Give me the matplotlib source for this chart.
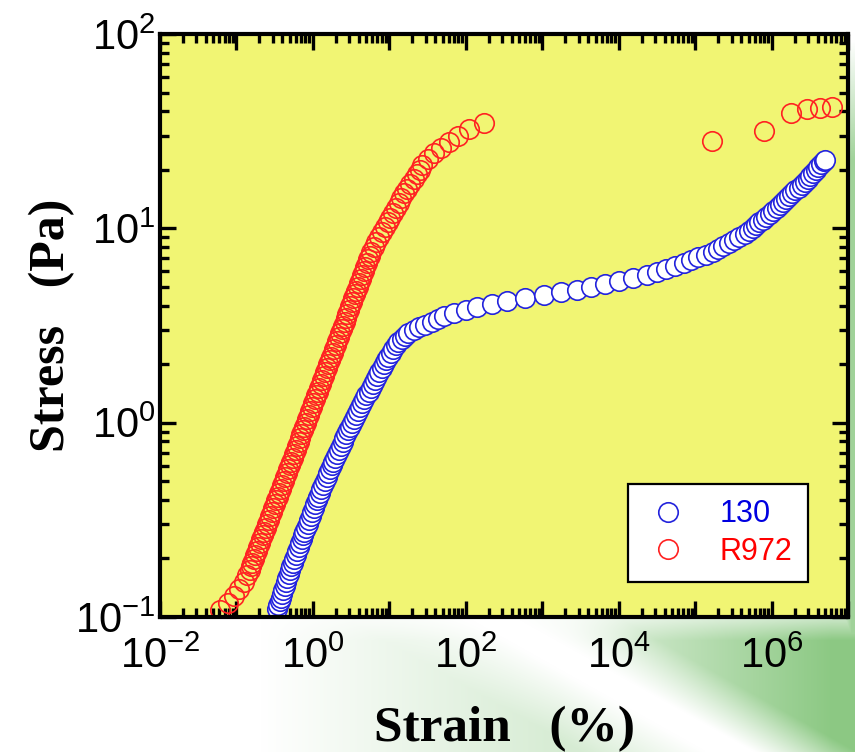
import numpy as np
import matplotlib
matplotlib.use("Agg")
import matplotlib.pyplot as plt
from matplotlib.ticker import LogLocator, FuncFormatter, NullFormatter

plt.rcParams['font.family'] = ['Liberation Sans', 'DejaVu Sans']
plt.rcParams['mathtext.fontset'] = 'custom'
plt.rcParams['mathtext.rm'] = 'Liberation Sans'
plt.rcParams['mathtext.default'] = 'regular'

# sample "130"
strain_130 = [
    0.3388, 0.3524, 0.3664, 0.3811, 0.3963, 0.4121, 0.4285, 0.4457, 0.4634, 0.4819,
    0.5012, 0.5236, 0.5470, 0.5715, 0.5970, 0.6237, 0.6516, 0.6808, 0.7112, 0.7430,
    0.7762, 0.8128, 0.8511, 0.8913, 0.9333, 0.9772, 1.023, 1.072, 1.122, 1.175,
    1.230, 1.291, 1.358, 1.432, 1.507, 1.585, 1.667, 1.754, 1.849, 1.945,
    2.056, 2.178, 2.307, 2.443, 2.588, 2.742, 2.904, 3.076, 3.258, 3.467,
    3.690, 3.917, 4.169, 4.436, 4.710, 5.012, 5.358, 5.715, 6.109, 6.516,
    6.966, 7.430, 7.943, 8.492, 9.057, 9.683, 10.40, 11.22, 12.11,
    13.03, 14.45, 16.03, 17.78, 20.94, 24.72, 29.38, 35.65, 43.25, 52.48,
    70.79, 100.0, 141.3, 221.3, 346.7, 592.9, 1067, 1746, 2831, 4325,
    6607, 10070, 15380, 23440, 31260, 41690, 54950, 70960, 88510, 110700,
    138000, 171800, 199500, 234400, 275400, 323600, 380200, 446700, 509300, 564900,
    626600, 695000, 770900, 855100, 948400, 1.052e6, 1.167e6, 1.288e6, 1.416e6, 1.552e6,
    1.706e6, 1.871e6, 2.056e6, 2.254e6, 2.477e6, 2.716e6, 2.979e6, 3.221e6, 3.491e6, 3.776e6,
    4.093e6, 4.426e6, 4.797e6, 5.012e6,
]
stress_130 = [
    0.1096, 0.1148, 0.1202, 0.1259, 0.1318, 0.1380, 0.1445, 0.1514, 0.1585, 0.1660,
    0.1738, 0.1820, 0.1905, 0.1995, 0.2089, 0.2188, 0.2291, 0.2399, 0.2512, 0.2630,
    0.2754, 0.2884, 0.3020, 0.3162, 0.3311, 0.3467, 0.3631, 0.3802, 0.3981, 0.4169,
    0.4365, 0.4571, 0.4786, 0.5012, 0.5248, 0.5495, 0.5754, 0.6026, 0.6310, 0.6607,
    0.6918, 0.7244, 0.7586, 0.7943, 0.8318, 0.8710, 0.9120, 0.9550, 1.000, 1.047,
    1.096, 1.148, 1.202, 1.259, 1.318, 1.380, 1.445, 1.514, 1.585, 1.660,
    1.738, 1.820, 1.905, 1.995, 2.089, 2.188, 2.291, 2.399, 2.512,
    2.600, 2.692, 2.786, 2.884, 2.985, 3.090, 3.199, 3.311, 3.428, 3.548,
    3.673, 3.802, 3.936, 4.074, 4.217, 4.365, 4.519, 4.677, 4.842, 5.012,
    5.188, 5.370, 5.559, 5.754, 5.957, 6.166, 6.383, 6.607, 6.839, 7.079,
    7.328, 7.586, 7.852, 8.128, 8.414, 8.710, 9.016, 9.333, 9.661, 10.00,
    10.35, 10.72, 11.09, 11.48, 11.89, 12.30, 12.74, 13.18, 13.65, 14.13,
    14.62, 15.14, 15.67, 16.22, 16.79, 17.38, 17.99, 18.62, 19.28, 19.95,
    20.65, 21.38, 22.13, 22.49,
]

# sample "R972"
strain_r972 = [
    0.06095, 0.07762, 0.09333, 0.1096, 0.1245, 0.1380,
    0.1483, 0.1550, 0.1621, 0.1696, 0.1773, 0.1854, 0.1939, 0.2027, 0.2120, 0.2217,
    0.2318, 0.2424, 0.2535, 0.2651, 0.2772, 0.2900, 0.3032, 0.3170, 0.3316, 0.3467,
    0.3626, 0.3791, 0.3965, 0.4146, 0.4335, 0.4534, 0.4741, 0.4958, 0.5185, 0.5422,
    0.5670, 0.5929, 0.6200, 0.6484, 0.6780, 0.7090, 0.7415, 0.7754, 0.8110, 0.8480,
    0.8868, 0.9273, 0.9696, 1.014, 1.060, 1.109, 1.160, 1.213, 1.268, 1.326,
    1.387, 1.450, 1.516, 1.586, 1.659, 1.734, 1.814, 1.897, 1.984, 2.074,
    2.169, 2.268, 2.371, 2.480, 2.594, 2.712, 2.836, 2.966, 3.101, 3.243,
    3.391, 3.546, 3.709, 3.879, 4.056, 4.241, 4.435, 4.638, 4.851, 5.073,
    5.305, 5.546, 5.800,
    6.252, 6.792, 7.396, 8.035, 8.730, 9.484, 10.33, 11.22, 12.19, 13.24,
    14.42, 15.67, 17.02, 18.79, 20.75, 22.91, 24.83, 26.79, 32.06, 38.46,
    47.42, 60.39, 79.07, 110.2, 173.4,
    1.66e5, 7.95e5, 1.8e6, 2.91e6, 4.31e6, 6.18e6,
]
stress_r972 = [
    0.1086, 0.1180, 0.1282, 0.1396, 0.1514, 0.1641,
    0.1738, 0.1820, 0.1905, 0.1995, 0.2089, 0.2188, 0.2291, 0.2399, 0.2512, 0.2630,
    0.2754, 0.2884, 0.3020, 0.3162, 0.3311, 0.3467, 0.3631, 0.3802, 0.3981, 0.4169,
    0.4365, 0.4571, 0.4786, 0.5012, 0.5248, 0.5495, 0.5754, 0.6026, 0.6310, 0.6607,
    0.6918, 0.7244, 0.7586, 0.7943, 0.8318, 0.8710, 0.9120, 0.9550, 1.000, 1.047,
    1.096, 1.148, 1.202, 1.259, 1.318, 1.380, 1.445, 1.514, 1.585, 1.660,
    1.738, 1.820, 1.905, 1.995, 2.089, 2.188, 2.291, 2.399, 2.512, 2.630,
    2.754, 2.884, 3.020, 3.162, 3.311, 3.467, 3.631, 3.802, 3.981, 4.169,
    4.365, 4.571, 4.786, 5.012, 5.248, 5.495, 5.754, 6.026, 6.310, 6.607,
    6.918, 7.244, 7.586,
    8.035, 8.511, 9.016, 9.550, 10.12, 10.72, 11.35, 12.02, 12.74, 13.49,
    14.29, 15.14, 16.03, 16.98, 17.99, 19.05, 19.95, 21.18, 22.75, 24.43,
    25.94, 27.86, 29.92, 32.51, 34.83,
    28.2, 31.7, 39.3, 41.2, 41.7, 42.3,
]

W, H = 855, 752
fig = plt.figure(figsize=(W / 100, H / 100), dpi=100, facecolor="white")

# decorative white/green backdrop
bg_ax = fig.add_axes([0, 0, 1, 1], zorder=-10)
yy, xx = np.mgrid[0:H, 0:W].astype(float)
alpha = np.clip((xx - 836) / 14, 0, 1) * np.clip((yy - 40) / 120, 0, 1) * 0.7
below = np.clip((yy - 600) / 40, 0, 1)
d = ((xx - 495) * 132 - (yy - 620) * 235) / np.hypot(235, 132)
a_right = np.clip((d - 12) / 50, 0, 1) * np.clip((xx - 480) / 350, 0.25, 1) * 0.85
a_left = np.clip((-d - 12) / 60, 0, 1) * np.clip((xx - 260) / 300, 0, 1) * 0.3
alpha = np.maximum(alpha, below * (a_right + a_left))
green = np.array([0.47, 0.75, 0.43])
img = 1 - alpha[..., None] * (1 - green)
bg_ax.imshow(img, extent=[0, 1, 0, 1], aspect="auto")
bg_ax.axis("off")

ax = fig.add_axes([160 / W, 1 - 617 / H, 688 / W, 583 / H])
ax.set_facecolor("#f1f573")

ax.plot(strain_130, stress_130, "o", ms=14, mfc="white", mec="#2323dc", mew=1.2,
        label="130")
ax.plot(strain_r972, stress_r972, "o", ms=14, mfc="none", mec="#ff2222", mew=1.2,
        label="R972")

ax.set_xscale("log")
ax.set_yscale("log")
ax.set_xlim(1e-2, 1e7)
ax.set_ylim(1e-1, 1e2)

ax.xaxis.set_major_locator(LogLocator(base=10, numticks=100))
ax.xaxis.set_minor_locator(LogLocator(base=10, subs=np.arange(2, 10), numticks=100))
ax.yaxis.set_major_locator(LogLocator(base=10, numticks=100))
ax.yaxis.set_minor_locator(LogLocator(base=10, subs=np.arange(2, 10), numticks=100))


def xfmt(v, pos):
    e = int(round(np.log10(v)))
    return f"$10^{{{e}}}$" if e % 2 == 0 else ""


def yfmt(v, pos):
    e = int(round(np.log10(v)))
    return f"$10^{{{e}}}$"


ax.xaxis.set_major_formatter(FuncFormatter(xfmt))
ax.yaxis.set_major_formatter(FuncFormatter(yfmt))
ax.xaxis.set_minor_formatter(NullFormatter())
ax.yaxis.set_minor_formatter(NullFormatter())

for s in ax.spines.values():
    s.set_linewidth(3)
ax.tick_params(which="both", direction="in", top=True, right=True, width=2.4,
               colors="black")
ax.tick_params(which="major", length=11.5, labelsize=30)
ax.tick_params(which="minor", length=6.5)
ax.tick_params(axis="x", which="major", pad=14)
ax.tick_params(axis="y", which="major", pad=3)

ax.set_xlabel("Strain   (%)", family="Liberation Serif", weight="bold", fontsize=37,
              va="baseline")
ax.xaxis.set_label_coords(0.5, (617 - 741) / 583)
ax.set_ylabel("Stress   (Pa)", family="Liberation Serif", weight="bold", fontsize=36,
              va="baseline")
ax.yaxis.set_label_coords((64 - 160) / 688, 0.5)

leg = ax.legend(loc="upper left", bbox_to_anchor=(0.680, 0.228), fontsize=22,
                frameon=True, fancybox=False, framealpha=1, edgecolor="black",
                borderaxespad=0, borderpad=0.5, labelspacing=0.25,
                handlelength=1.6, handletextpad=0.9)
leg.get_frame().set_linewidth(1.6)
for txt, col in zip(leg.get_texts(), ["#0000e0", "#ff0000"]):
    txt.set_color(col)

fig.savefig("out.png", dpi=100, facecolor=fig.get_facecolor())
